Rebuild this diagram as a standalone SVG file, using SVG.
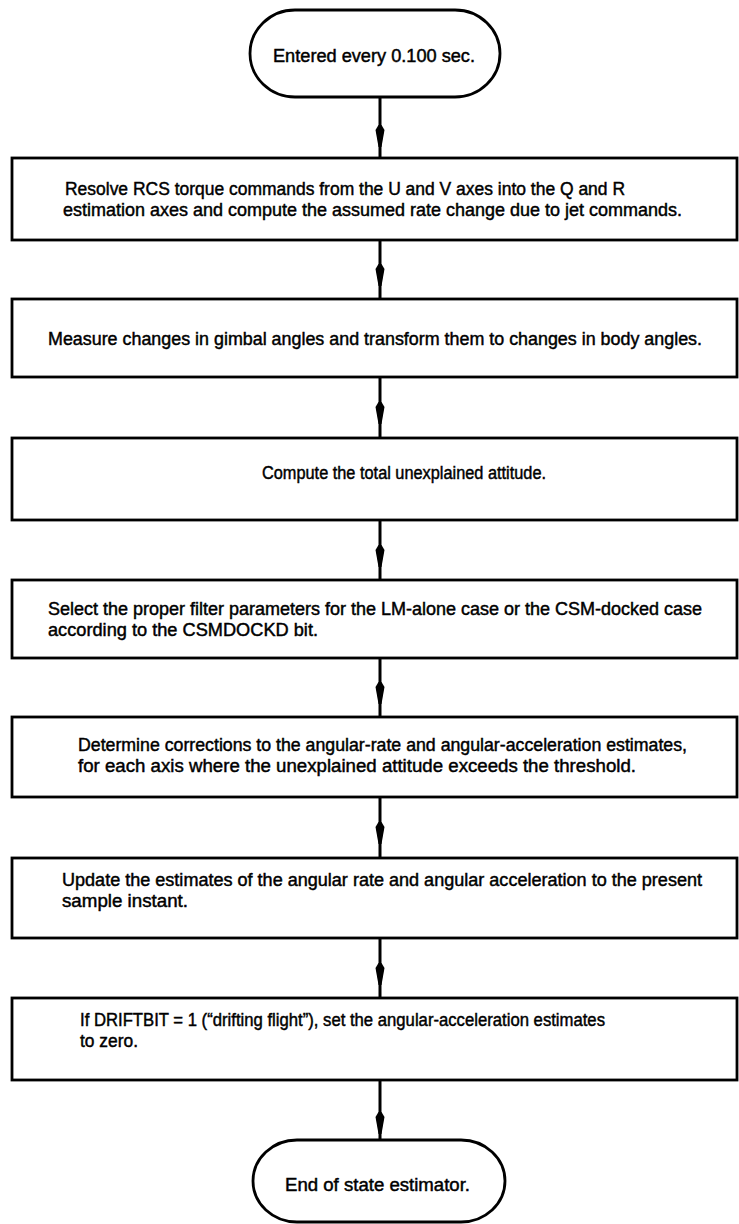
<svg xmlns="http://www.w3.org/2000/svg" xmlns:xlink="http://www.w3.org/1999/xlink" width="739" height="1224" viewBox="0 0 739 1224">
<style>
.shape{fill:#fff;stroke:#000;stroke-width:2.8}
.t{font-family:"Liberation Sans Narrow","Liberation Sans",Arial,sans-serif;font-size:18px;fill:#000;stroke:#000;stroke-width:0.45}
.conn line{stroke:#000;stroke-width:3}
.conn use{fill:#000}
</style>
<defs>
<path id="ah" d="M-1.5,-3 L-4.5,2 L-1.5,19 L1.5,19 L4.5,2 L1.5,-3 Z"/>
</defs>
<rect width="739" height="1224" fill="#fff"/>
<g class="conn">
<line x1="380" y1="97" x2="380" y2="158"/><use xlink:href="#ah" x="380" y="128"/>
<line x1="380" y1="240" x2="380" y2="299"/><use xlink:href="#ah" x="380" y="267"/>
<line x1="380" y1="377" x2="380" y2="438"/><use xlink:href="#ah" x="380" y="405"/>
<line x1="380" y1="520" x2="380" y2="580"/><use xlink:href="#ah" x="380" y="548"/>
<line x1="380" y1="658" x2="380" y2="717"/><use xlink:href="#ah" x="380" y="685"/>
<line x1="380" y1="797" x2="380" y2="858"/><use xlink:href="#ah" x="380" y="825"/>
<line x1="380" y1="938" x2="380" y2="998"/><use xlink:href="#ah" x="380" y="966"/>
<line x1="380" y1="1080" x2="380" y2="1140"/><use xlink:href="#ah" x="380" y="1115"/>
</g>
<g id="start">
<rect class="shape" x="250" y="10" width="250" height="87" rx="45" ry="43.5"/>
<text class="t" x="273" y="62" textLength="202" lengthAdjust="spacingAndGlyphs">Entered every 0.100 sec.</text>
</g>
<g id="resolve">
<rect class="shape" x="12" y="158" width="725" height="82"/>
<text class="t" x="65" y="195" textLength="560" lengthAdjust="spacingAndGlyphs">Resolve RCS torque commands from the U and V axes into the Q and R</text>
<text class="t" x="63" y="216" textLength="619" lengthAdjust="spacingAndGlyphs">estimation axes and compute the assumed rate change due to jet commands.</text>
</g>
<g id="measure">
<rect class="shape" x="12" y="299" width="725" height="78"/>
<text class="t" x="48" y="345" textLength="654" lengthAdjust="spacingAndGlyphs">Measure changes in gimbal angles and transform them to changes in body angles.</text>
</g>
<g id="compute">
<rect class="shape" x="12" y="438" width="725" height="82"/>
<text class="t" x="262" y="479" textLength="284" lengthAdjust="spacingAndGlyphs">Compute the total unexplained attitude.</text>
</g>
<g id="select">
<rect class="shape" x="12" y="580" width="725" height="78"/>
<text class="t" x="48" y="615" textLength="654" lengthAdjust="spacingAndGlyphs">Select the proper filter parameters for the LM-alone case or the CSM-docked case</text>
<text class="t" x="48" y="636" textLength="270" lengthAdjust="spacingAndGlyphs">according to the CSMDOCKD bit.</text>
</g>
<g id="determine">
<rect class="shape" x="12" y="717" width="725" height="80"/>
<text class="t" x="78" y="751" textLength="609" lengthAdjust="spacingAndGlyphs">Determine corrections to the angular-rate and angular-acceleration estimates,</text>
<text class="t" x="78" y="772" textLength="558" lengthAdjust="spacingAndGlyphs">for each axis where the unexplained attitude exceeds the threshold.</text>
</g>
<g id="update">
<rect class="shape" x="12" y="858" width="725" height="80"/>
<text class="t" x="62" y="886" textLength="640" lengthAdjust="spacingAndGlyphs">Update the estimates of the angular rate and angular acceleration to the present</text>
<text class="t" x="62" y="907" textLength="126" lengthAdjust="spacingAndGlyphs">sample instant.</text>
</g>
<g id="driftbit">
<rect class="shape" x="12" y="998" width="725" height="82"/>
<text class="t" x="80" y="1026" textLength="525" lengthAdjust="spacingAndGlyphs">If DRIFTBIT = 1 (“drifting flight”), set the angular-acceleration estimates</text>
<text class="t" x="80" y="1047" textLength="58" lengthAdjust="spacingAndGlyphs">to zero.</text>
</g>
<g id="end">
<rect class="shape" x="253" y="1140" width="252" height="82" rx="44" ry="41"/>
<text class="t" x="285" y="1191" textLength="185" lengthAdjust="spacingAndGlyphs">End of state estimator.</text>
</g>
</svg>
